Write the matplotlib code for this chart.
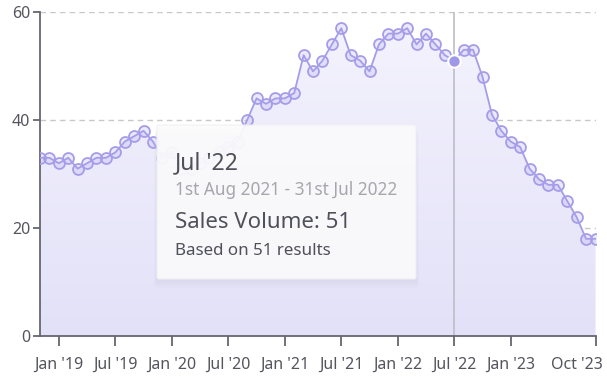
import numpy as np
import matplotlib
matplotlib.use("Agg")
import matplotlib.pyplot as plt
from matplotlib.patches import FancyBboxPatch, Polygon
from matplotlib.transforms import ScaledTranslation

plt.rcParams['font.family'] = ['Noto Sans', 'DejaVu Sans']

# monthly sales volume, Nov 2018 .. Oct 2023
months = ["Nov '18", "Dec '18",
          "Jan '19", "Feb '19", "Mar '19", "Apr '19", "May '19", "Jun '19",
          "Jul '19", "Aug '19", "Sep '19", "Oct '19", "Nov '19", "Dec '19",
          "Jan '20", "Feb '20", "Mar '20", "Apr '20", "May '20", "Jun '20",
          "Jul '20", "Aug '20", "Sep '20", "Oct '20", "Nov '20", "Dec '20",
          "Jan '21", "Feb '21", "Mar '21", "Apr '21", "May '21", "Jun '21",
          "Jul '21", "Aug '21", "Sep '21", "Oct '21", "Nov '21", "Dec '21",
          "Jan '22", "Feb '22", "Mar '22", "Apr '22", "May '22", "Jun '22",
          "Jul '22", "Aug '22", "Sep '22", "Oct '22", "Nov '22", "Dec '22",
          "Jan '23", "Feb '23", "Mar '23", "Apr '23", "May '23", "Jun '23",
          "Jul '23", "Aug '23", "Sep '23", "Oct '23"]
volume = [33, 33,
          32, 33, 31, 32, 33, 33, 34, 36, 37, 38, 36, 33,
          34, 31, 31, 32, 33, 34, 35, 36, 40, 44, 43, 44,
          44, 45, 52, 49, 51, 54, 57, 52, 51, 49, 54, 56,
          56, 57, 54, 56, 54, 52, 51, 53, 53, 48, 41, 38,
          36, 35, 31, 29, 28, 28, 25, 22, 18, 18]
tick_labels = ["Jan '19", "Jul '19", "Jan '20", "Jul '20", "Jan '21",
               "Jul '21", "Jan '22", "Jul '22", "Jan '23", "Oct '23"]
y_ticks = [0, 20, 40, 60]
hover = "Jul '22"
hover_range = "1st Aug 2021 - 31st Jul 2022"
hover_results = 51

line_col = '#a59de9'
text_col = '#55555e'

x = np.arange(len(volume))
y = np.array(volume)

fig = plt.figure(figsize=(6.07, 3.81), dpi=100)
ax = fig.add_axes([40/607, 1 - 336/381, 555.5/607, 324/381])

# gradient area under the line
verts = [(0, 0)] + list(zip(x, y)) + [(x[-1], 0)]
poly = Polygon(verts, closed=True, facecolor='none', edgecolor='none')
ax.add_patch(poly)
grad = np.linspace(0, 1, 256).reshape(-1, 1)
cmap = matplotlib.colors.LinearSegmentedColormap.from_list('g', ['#f4f3fd', '#e3e1f8'])
im = ax.imshow(grad, extent=[0, x[-1], 0, 60], aspect='auto', cmap=cmap,
               origin='upper', zorder=1)
im.set_clip_path(poly)
ax.set_xlim(0, len(volume) - 1)
ax.set_ylim(0, 60)

for t in [20, 40, 60]:
    ax.axhline(t, color='#c8c8c8', lw=1, ls=(0, (4, 3)), zorder=0.5)

ax.plot(x, y, color=line_col, lw=1.3, zorder=3)
ax.scatter(x, y, s=62, facecolor=(0.65, 0.62, 0.92, 0.22), edgecolor=line_col,
           linewidth=1.3, zorder=4)

hi = months.index(hover)
ax.axvline(hi, color='#bdbdc8', lw=1.2, zorder=2)
ax.scatter([hi], [y[hi]], s=80, facecolor='#9f98e8', edgecolor='white',
           linewidth=1.5, zorder=5)

ax.set_yticks(y_ticks)
ax.set_xticks([months.index(m) for m in tick_labels])
ax.set_xticklabels(tick_labels)
ax.tick_params(axis='both', colors='#666670', labelcolor=text_col, labelsize=11.5,
               width=1.3)
ax.tick_params(axis='x', length=7, pad=8)
ax.tick_params(axis='y', length=5, pad=2)
last = ax.get_xticklabels()[-1]
last.set_ha('right')
last.set_transform(last.get_transform() + ScaledTranslation(7/100, 0, fig.dpi_scale_trans))
for s in ['top', 'right']:
    ax.spines[s].set_visible(False)
for s in ['left', 'bottom']:
    ax.spines[s].set_color('#666670')
    ax.spines[s].set_linewidth(1.3)

# tooltip with soft shadow
bx0, by0, bw, bh = 157/607, 1 - 279/381, 259/607, 154/381
for i in range(6):
    g = (i + 1) * 1.5
    sh = FancyBboxPatch((bx0 - g/607*0.3, by0 - g/381), bw + g/607*0.6, bh,
                        boxstyle='round,pad=0,rounding_size=0.006',
                        transform=fig.transFigure, facecolor='#c8c6dc',
                        edgecolor='none', alpha=0.05, zorder=9)
    fig.patches.append(sh)
box = FancyBboxPatch((bx0, by0), bw, bh, boxstyle='round,pad=0,rounding_size=0.004',
                     transform=fig.transFigure, facecolor='#fbfbfc',
                     edgecolor='#f0f0f4', lw=0.8, alpha=0.93, zorder=10)
fig.patches.append(box)
tx = 175/607
fig.text(tx, 1 - 163/381, hover, fontsize=16.5, color='#50505a', va='center', zorder=11)
fig.text(tx, 1 - 190/381, hover_range, fontsize=12.4, color='#a6a6ae', va='center', zorder=11)
fig.text(tx, 1 - 222/381, f"Sales Volume: {y[hi]}", fontsize=16, color='#50505a',
         va='center', zorder=11)
fig.text(tx, 1 - 251/381, f"Based on {hover_results} results", fontsize=12.2,
         color='#50505a', va='center', zorder=11)

fig.savefig('out.png', dpi=100)
